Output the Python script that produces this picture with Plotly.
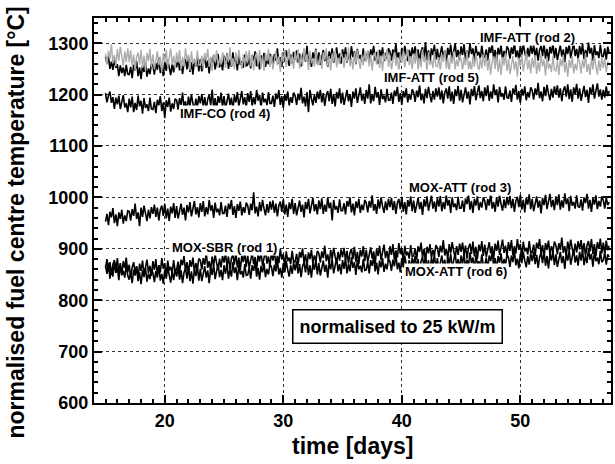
import numpy as np
import plotly.graph_objects as go

# Logged readings: one every 3 hours from day 15 to day 57.5
T_START = 15.0
T_STEP = 0.125

# Normalised fuel centre temperatures [°C], one list per rod (16 readings = 2 days per row)
imf_att_rod2 = [
    1274, 1260, 1275, 1250, 1264, 1248, 1270, 1252, 1259, 1236, 1257, 1242, 1253, 1236, 1258, 1240,
    1239, 1254, 1232, 1258, 1247, 1265, 1236, 1253, 1230, 1257, 1244, 1262, 1235, 1251, 1240, 1260,
    1257, 1239, 1261, 1248, 1272, 1242, 1255, 1236, 1264, 1246, 1268, 1251, 1238, 1260, 1243, 1265,
    1253, 1271, 1247, 1265, 1240, 1261, 1269, 1249, 1273, 1244, 1263, 1239, 1267, 1254, 1274, 1245,
    1269, 1245, 1264, 1274, 1252, 1266, 1241, 1271, 1257, 1277, 1249, 1262, 1279, 1253, 1267, 1247,
    1276, 1259, 1280, 1250, 1268, 1254, 1282, 1261, 1272, 1247, 1277, 1258, 1265, 1252, 1278, 1256,
    1258, 1273, 1251, 1277, 1266, 1284, 1255, 1272, 1249, 1276, 1263, 1281, 1254, 1270, 1259, 1279,
    1275, 1257, 1279, 1266, 1290, 1260, 1273, 1254, 1282, 1264, 1286, 1269, 1256, 1278, 1261, 1283,
    1268, 1286, 1262, 1280, 1255, 1276, 1284, 1264, 1295, 1259, 1278, 1254, 1282, 1269, 1289, 1260,
    1282, 1258, 1277, 1287, 1265, 1279, 1254, 1284, 1270, 1290, 1262, 1275, 1292, 1266, 1280, 1260,
    1288, 1271, 1292, 1262, 1280, 1266, 1294, 1273, 1284, 1259, 1289, 1270, 1277, 1264, 1290, 1268,
    1269, 1284, 1262, 1288, 1277, 1295, 1266, 1283, 1260, 1287, 1274, 1292, 1265, 1281, 1270, 1290,
    1284, 1266, 1288, 1275, 1299, 1269, 1282, 1263, 1291, 1273, 1295, 1278, 1265, 1287, 1270, 1292,
    1276, 1294, 1270, 1288, 1263, 1284, 1292, 1272, 1302, 1267, 1286, 1262, 1290, 1277, 1297, 1268,
    1289, 1265, 1284, 1294, 1272, 1286, 1261, 1291, 1277, 1297, 1269, 1282, 1299, 1273, 1287, 1267,
    1294, 1277, 1298, 1268, 1286, 1272, 1300, 1279, 1290, 1265, 1295, 1276, 1283, 1270, 1296, 1274,
    1273, 1288, 1266, 1292, 1281, 1299, 1270, 1287, 1264, 1291, 1278, 1296, 1269, 1285, 1274, 1294,
    1288, 1270, 1292, 1279, 1303, 1273, 1286, 1267, 1295, 1277, 1299, 1282, 1269, 1291, 1274, 1296,
    1279, 1297, 1273, 1291, 1266, 1287, 1295, 1275, 1299, 1270, 1289, 1265, 1293, 1280, 1300, 1271,
    1291, 1267, 1286, 1296, 1274, 1288, 1263, 1293, 1279, 1299, 1271, 1284, 1301, 1275, 1289, 1269,
    1295, 1278, 1299, 1269, 1287, 1273, 1301, 1280, 1291, 1266, 1296, 1277, 1284, 1271, 1297, 1275,
    1274, 1290, 1268, 1293, 1281,
]

imf_att_rod5 = [
    1280, 1258, 1285, 1269, 1298, 1261, 1277, 1255, 1288, 1266, 1293, 1272, 1256, 1284, 1263, 1290,
    1263, 1286, 1255, 1278, 1247, 1273, 1282, 1258, 1287, 1252, 1276, 1246, 1281, 1265, 1289, 1254,
    1278, 1249, 1271, 1284, 1257, 1274, 1244, 1281, 1263, 1287, 1254, 1270, 1290, 1258, 1276, 1250,
    1282, 1262, 1287, 1250, 1273, 1255, 1290, 1265, 1278, 1247, 1284, 1260, 1270, 1254, 1286, 1258,
    1257, 1276, 1249, 1281, 1266, 1289, 1254, 1274, 1246, 1279, 1263, 1286, 1252, 1271, 1258, 1282,
    1274, 1252, 1279, 1263, 1292, 1255, 1271, 1249, 1282, 1260, 1287, 1266, 1250, 1278, 1257, 1284,
    1263, 1286, 1255, 1278, 1247, 1273, 1282, 1258, 1287, 1252, 1276, 1246, 1281, 1265, 1289, 1254,
    1278, 1249, 1271, 1284, 1257, 1274, 1244, 1281, 1263, 1287, 1254, 1270, 1290, 1258, 1276, 1250,
    1283, 1263, 1288, 1251, 1274, 1256, 1291, 1266, 1279, 1248, 1285, 1261, 1271, 1255, 1287, 1259,
    1258, 1277, 1250, 1282, 1267, 1290, 1255, 1275, 1247, 1280, 1264, 1287, 1253, 1272, 1259, 1283,
    1274, 1252, 1279, 1263, 1292, 1255, 1271, 1249, 1282, 1260, 1287, 1266, 1250, 1278, 1257, 1284,
    1263, 1286, 1255, 1278, 1247, 1273, 1282, 1258, 1287, 1252, 1276, 1246, 1281, 1265, 1289, 1254,
    1277, 1248, 1270, 1283, 1256, 1273, 1243, 1280, 1262, 1286, 1253, 1269, 1289, 1257, 1275, 1249,
    1280, 1260, 1285, 1248, 1271, 1253, 1288, 1263, 1276, 1245, 1282, 1258, 1268, 1252, 1284, 1256,
    1254, 1273, 1246, 1278, 1263, 1286, 1251, 1271, 1243, 1276, 1260, 1283, 1249, 1268, 1255, 1279,
    1268, 1246, 1273, 1257, 1286, 1249, 1265, 1243, 1276, 1254, 1281, 1260, 1244, 1272, 1251, 1278,
    1255, 1278, 1247, 1270, 1239, 1265, 1274, 1250, 1279, 1244, 1268, 1238, 1273, 1257, 1281, 1246,
    1269, 1240, 1262, 1275, 1248, 1265, 1235, 1272, 1254, 1278, 1245, 1261, 1281, 1249, 1267, 1241,
    1272, 1252, 1277, 1240, 1263, 1245, 1280, 1255, 1268, 1237, 1274, 1250, 1260, 1244, 1276, 1248,
    1246, 1265, 1238, 1270, 1255, 1278, 1243, 1263, 1235, 1268, 1252, 1275, 1241, 1260, 1247, 1271,
    1263, 1241, 1268, 1252, 1281, 1244, 1260, 1238, 1271, 1249, 1276, 1255, 1239, 1267, 1246, 1273,
    1252, 1270, 1243, 1264, 1258,
]

imf_co_rod4 = [
    1203, 1185, 1198, 1206, 1184, 1195, 1172, 1194, 1181, 1198, 1172, 1184, 1199, 1175, 1183, 1166,
    1192, 1175, 1196, 1166, 1184, 1170, 1198, 1177, 1188, 1163, 1193, 1174, 1181, 1168, 1194, 1172,
    1171, 1186, 1164, 1190, 1179, 1197, 1168, 1185, 1154, 1189, 1176, 1194, 1167, 1183, 1172, 1192,
    1189, 1171, 1193, 1180, 1204, 1174, 1187, 1168, 1196, 1178, 1200, 1183, 1170, 1192, 1175, 1197,
    1183, 1201, 1177, 1195, 1170, 1191, 1199, 1179, 1210, 1174, 1193, 1169, 1197, 1184, 1204, 1175,
    1197, 1173, 1192, 1202, 1180, 1194, 1169, 1199, 1185, 1205, 1177, 1190, 1207, 1181, 1195, 1175,
    1203, 1186, 1207, 1177, 1195, 1181, 1209, 1188, 1199, 1174, 1204, 1185, 1192, 1179, 1205, 1183,
    1183, 1198, 1176, 1202, 1191, 1209, 1180, 1197, 1174, 1201, 1188, 1206, 1179, 1195, 1184, 1204,
    1198, 1180, 1202, 1189, 1213, 1183, 1196, 1177, 1205, 1166, 1209, 1192, 1179, 1201, 1184, 1206,
    1191, 1209, 1185, 1203, 1178, 1199, 1207, 1187, 1211, 1182, 1201, 1177, 1205, 1192, 1212, 1183,
    1204, 1180, 1199, 1209, 1187, 1201, 1176, 1206, 1192, 1212, 1184, 1197, 1214, 1188, 1202, 1182,
    1209, 1192, 1220, 1183, 1201, 1187, 1215, 1194, 1205, 1180, 1210, 1191, 1198, 1185, 1211, 1189,
    1189, 1204, 1182, 1208, 1197, 1215, 1186, 1203, 1180, 1207, 1194, 1212, 1185, 1201, 1190, 1210,
    1204, 1186, 1208, 1195, 1219, 1189, 1202, 1183, 1211, 1193, 1215, 1198, 1185, 1207, 1190, 1212,
    1196, 1214, 1190, 1208, 1183, 1204, 1212, 1192, 1216, 1187, 1206, 1182, 1210, 1197, 1217, 1188,
    1209, 1185, 1204, 1214, 1192, 1206, 1181, 1211, 1197, 1217, 1189, 1202, 1219, 1193, 1207, 1187,
    1214, 1197, 1218, 1188, 1206, 1192, 1220, 1199, 1210, 1185, 1215, 1196, 1203, 1190, 1216, 1194,
    1193, 1208, 1186, 1212, 1201, 1219, 1190, 1207, 1184, 1211, 1198, 1216, 1189, 1205, 1194, 1214,
    1208, 1190, 1212, 1199, 1223, 1193, 1206, 1187, 1215, 1197, 1219, 1202, 1189, 1211, 1194, 1216,
    1200, 1218, 1194, 1212, 1187, 1208, 1216, 1196, 1220, 1191, 1210, 1186, 1214, 1201, 1221, 1192,
    1212, 1188, 1207, 1217, 1195, 1209, 1184, 1214, 1200, 1220, 1192, 1205, 1222, 1196, 1210, 1190,
    1209, 1194, 1216, 1197, 1207,
]

mox_att_rod3 = [
    953, 968, 946, 972, 961, 979, 950, 967, 944, 971, 958, 976, 949, 965, 954, 974,
    973, 955, 977, 964, 988, 958, 971, 944, 980, 962, 984, 967, 954, 976, 959, 981,
    968, 986, 962, 980, 955, 976, 984, 964, 988, 959, 978, 954, 982, 969, 989, 960,
    983, 959, 978, 988, 966, 980, 955, 985, 971, 991, 963, 976, 993, 967, 981, 961,
    989, 972, 993, 963, 981, 967, 995, 974, 985, 960, 990, 971, 978, 965, 991, 969,
    969, 984, 962, 988, 977, 995, 966, 983, 960, 987, 974, 992, 965, 981, 970, 990,
    984, 966, 988, 975, 1010, 969, 982, 963, 991, 973, 995, 978, 965, 987, 970, 992,
    976, 994, 970, 988, 963, 984, 992, 972, 996, 967, 986, 962, 990, 977, 997, 968,
    989, 965, 984, 994, 972, 986, 961, 991, 977, 997, 969, 982, 999, 973, 987, 967,
    994, 977, 998, 968, 986, 972, 1000, 979, 990, 955, 995, 976, 983, 970, 996, 974,
    974, 989, 967, 993, 982, 1000, 971, 988, 965, 992, 979, 997, 970, 986, 975, 995,
    989, 971, 993, 980, 1004, 974, 987, 968, 996, 978, 1000, 983, 970, 992, 975, 997,
    981, 999, 975, 993, 968, 989, 997, 977, 1001, 972, 991, 967, 995, 982, 1002, 973,
    994, 970, 989, 999, 977, 991, 966, 996, 982, 1002, 974, 987, 1004, 978, 992, 972,
    999, 982, 1003, 973, 991, 977, 1005, 984, 995, 970, 1000, 981, 988, 975, 1001, 979,
    979, 994, 972, 998, 987, 1005, 976, 993, 970, 997, 984, 1002, 975, 991, 980, 1000,
    993, 975, 997, 984, 1008, 978, 991, 972, 1000, 982, 1004, 987, 974, 996, 979, 1001,
    985, 1003, 979, 997, 972, 993, 1001, 981, 1005, 976, 995, 971, 999, 986, 1006, 977,
    997, 973, 992, 1002, 980, 994, 969, 999, 985, 1005, 977, 990, 1007, 981, 995, 975,
    1002, 985, 1006, 976, 994, 980, 1008, 987, 998, 973, 1003, 984, 991, 978, 1004, 982,
    981, 996, 974, 1000, 989, 1007, 978, 995, 972, 999, 986, 1004, 977, 993, 982, 1002,
    994, 978, 1000, 985, 991,
]

mox_sbr_rod1 = [
    862, 880, 856, 874, 849, 870, 878, 858, 882, 853, 872, 848, 876, 863, 883, 854,
    869, 845, 864, 874, 852, 866, 841, 871, 857, 877, 849, 862, 879, 853, 867, 847,
    876, 859, 880, 850, 868, 854, 882, 861, 872, 847, 877, 858, 865, 852, 878, 856,
    860, 875, 853, 879, 868, 886, 857, 874, 851, 878, 865, 883, 856, 872, 861, 881,
    878, 860, 882, 869, 893, 863, 876, 857, 885, 867, 889, 872, 859, 881, 864, 886,
    873, 891, 867, 885, 860, 881, 889, 869, 893, 864, 883, 859, 887, 874, 894, 865,
    887, 863, 882, 892, 870, 884, 859, 889, 875, 895, 867, 880, 897, 871, 885, 865,
    894, 877, 898, 868, 886, 872, 900, 879, 890, 865, 895, 876, 883, 870, 896, 874,
    875, 890, 868, 894, 883, 901, 872, 889, 866, 893, 880, 898, 871, 887, 876, 896,
    891, 873, 895, 882, 906, 876, 889, 870, 898, 880, 902, 885, 872, 894, 877, 899,
    884, 902, 878, 896, 871, 892, 900, 880, 904, 875, 894, 870, 898, 885, 905, 876,
    898, 874, 893, 903, 881, 895, 870, 900, 886, 906, 878, 891, 908, 882, 896, 876,
    905, 888, 909, 879, 897, 883, 911, 890, 901, 876, 906, 887, 894, 881, 907, 885,
    886, 901, 879, 905, 894, 912, 883, 900, 877, 904, 891, 909, 882, 898, 887, 907,
    902, 884, 906, 893, 917, 887, 900, 881, 909, 891, 913, 896, 883, 905, 888, 910,
    894, 912, 888, 906, 881, 902, 910, 890, 914, 885, 904, 880, 908, 895, 915, 886,
    908, 884, 903, 913, 891, 905, 880, 910, 896, 916, 888, 901, 918, 892, 906, 886,
    913, 896, 917, 887, 905, 891, 919, 898, 909, 884, 914, 895, 902, 889, 915, 893,
    893, 908, 886, 912, 901, 919, 890, 907, 884, 911, 898, 916, 889, 905, 894, 914,
    907, 889, 911, 898, 922, 892, 905, 886, 914, 896, 918, 901, 888, 910, 893, 915,
    899, 917, 893, 911, 886, 907, 915, 895, 919, 890, 909, 885, 913, 900, 920, 891,
    912, 890, 916, 897, 906,
]

mox_att_rod6 = [
    868, 851, 872, 842, 860, 846, 874, 853, 864, 839, 869, 850, 857, 844, 870, 848,
    840, 855, 833, 859, 848, 866, 837, 854, 831, 858, 845, 863, 836, 852, 841, 861,
    853, 835, 857, 844, 868, 838, 851, 832, 860, 842, 864, 847, 834, 856, 839, 861,
    846, 864, 840, 858, 833, 854, 862, 842, 866, 837, 856, 832, 860, 847, 867, 838,
    861, 837, 856, 866, 844, 858, 833, 863, 849, 869, 841, 854, 871, 845, 859, 839,
    868, 851, 872, 842, 860, 846, 874, 853, 864, 839, 869, 850, 857, 844, 870, 848,
    849, 864, 842, 868, 857, 875, 846, 863, 840, 867, 854, 872, 845, 861, 850, 870,
    865, 847, 869, 856, 880, 850, 863, 844, 872, 854, 876, 859, 846, 868, 851, 873,
    858, 876, 852, 870, 845, 866, 874, 854, 878, 849, 868, 844, 872, 859, 879, 850,
    872, 848, 867, 877, 855, 869, 844, 874, 860, 880, 852, 865, 882, 856, 870, 850,
    878, 861, 882, 852, 870, 856, 884, 863, 874, 849, 879, 860, 867, 854, 880, 858,
    859, 874, 852, 878, 867, 885, 856, 873, 850, 877, 864, 882, 855, 871, 860, 880,
    875, 857, 879, 866, 890, 860, 873, 854, 882, 864, 886, 869, 856, 878, 861, 883,
    868, 886, 862, 880, 855, 876, 884, 864, 888, 859, 878, 854, 882, 869, 889, 860,
    882, 858, 877, 887, 865, 879, 854, 884, 870, 890, 862, 875, 892, 866, 880, 860,
    887, 870, 891, 861, 879, 865, 893, 872, 883, 858, 888, 869, 876, 863, 889, 867,
    868, 883, 861, 887, 876, 894, 865, 882, 859, 886, 873, 891, 864, 880, 869, 889,
    883, 865, 887, 874, 898, 868, 881, 862, 890, 872, 894, 877, 864, 886, 869, 891,
    876, 894, 870, 888, 863, 884, 892, 872, 896, 867, 886, 862, 890, 877, 897, 868,
    889, 865, 884, 894, 872, 886, 861, 891, 877, 897, 869, 882, 899, 873, 887, 867,
    894, 877, 898, 868, 886, 872, 900, 879, 890, 865, 895, 876, 883, 870, 896, 874,
    878, 893, 869, 889, 884,
]

X_TICKS = [20, 30, 40, 50]
Y_TICKS = [600, 700, 800, 900, 1000, 1100, 1200, 1300]

FONT = "Liberation Sans, Arial, Helvetica, sans-serif"


def days(values):
    return T_START + T_STEP * np.arange(len(values))


# (name, values, colour, width) in drawing order
series = [
    ("IMF-ATT (rod 2)", imf_att_rod2, "black", 1.6),
    ("IMF-ATT (rod 5)", imf_att_rod5, "#acacac", 1.4),
    ("IMF-CO (rod 4)", imf_co_rod4, "black", 1.6),
    ("MOX-ATT (rod 3)", mox_att_rod3, "black", 1.6),
    ("MOX-SBR (rod 1)", mox_sbr_rod1, "black", 1.6),
    ("MOX-ATT (rod 6)", mox_att_rod6, "black", 1.6),
]

fig = go.Figure()
for name, vals, colour, lw in series:
    fig.add_trace(go.Scatter(
        x=days(vals), y=vals, mode="lines", name=name,
        line=dict(color=colour, width=lw), showlegend=False,
    ))

# Curve labels (text, day, temperature)
labels = [
    ("IMF-ATT (rod 2)", 50.6, 1312),
    ("IMF-ATT (rod 5)", 42.5, 1234),
    ("IMF-CO (rod 4)", 25.1, 1164),
    ("MOX-ATT (rod 3)", 44.9, 1019),
    ("MOX-SBR (rod 1)", 25.0, 902),
    ("MOX-ATT (rod 6)", 44.6, 855),
]
for text, xd, yd in labels:
    fig.add_annotation(
        x=xd, y=yd, text=text, showarrow=False,
        font=dict(family=FONT, size=13, color="black", weight="bold"),
        bgcolor="white", borderpad=0,
    )

fig.add_annotation(
    x=39.66, y=748, text="normalised to 25 kW/m", showarrow=False,
    font=dict(family=FONT, size=18, color="black", weight="bold"),
    bgcolor="white", bordercolor="black", borderwidth=1.5, borderpad=6,
)

# Axis titles
fig.add_annotation(
    xref="paper", yref="paper", x=0.5, y=0, yshift=-43,
    text="time [days]", showarrow=False, xanchor="center", yanchor="middle",
    font=dict(family=FONT, size=23, color="black", weight="bold"),
)
fig.add_annotation(
    xref="paper", yref="paper", x=0, xshift=-79, y=0.5, yshift=-12,
    text="normalised fuel centre temperature [°C]", showarrow=False,
    textangle=-90, xanchor="center", yanchor="middle",
    font=dict(family=FONT, size=23, color="black", weight="bold"),
)

axis_common = dict(
    showline=True, linecolor="black", linewidth=2, mirror="allticks",
    ticks="inside", ticklen=8, tickwidth=1.5, tickcolor="black",
    showgrid=True, gridcolor="#333333", gridwidth=1, griddash="dot",
    zeroline=False,
    tickfont=dict(family=FONT, size=18, color="black", weight="bold"),
)

fig.update_xaxes(
    range=[14.03, 57.65], tickmode="array", tickvals=X_TICKS,
    minor=dict(dtick=1, tick0=0, ticks="inside", ticklen=4, tickwidth=1.5,
               tickcolor="black", showgrid=False),
    **axis_common,
)
fig.update_yaxes(
    range=[600, 1349], tickmode="array", tickvals=Y_TICKS,
    minor=dict(dtick=20, tick0=0, ticks="inside", ticklen=4, tickwidth=1.5,
               tickcolor="black", showgrid=False),
    **axis_common,
)

fig.update_layout(
    width=615, height=464,
    margin=dict(l=94, r=2, t=18, b=61),
    paper_bgcolor="white", plot_bgcolor="white",
)

fig.write_html("out.html")
